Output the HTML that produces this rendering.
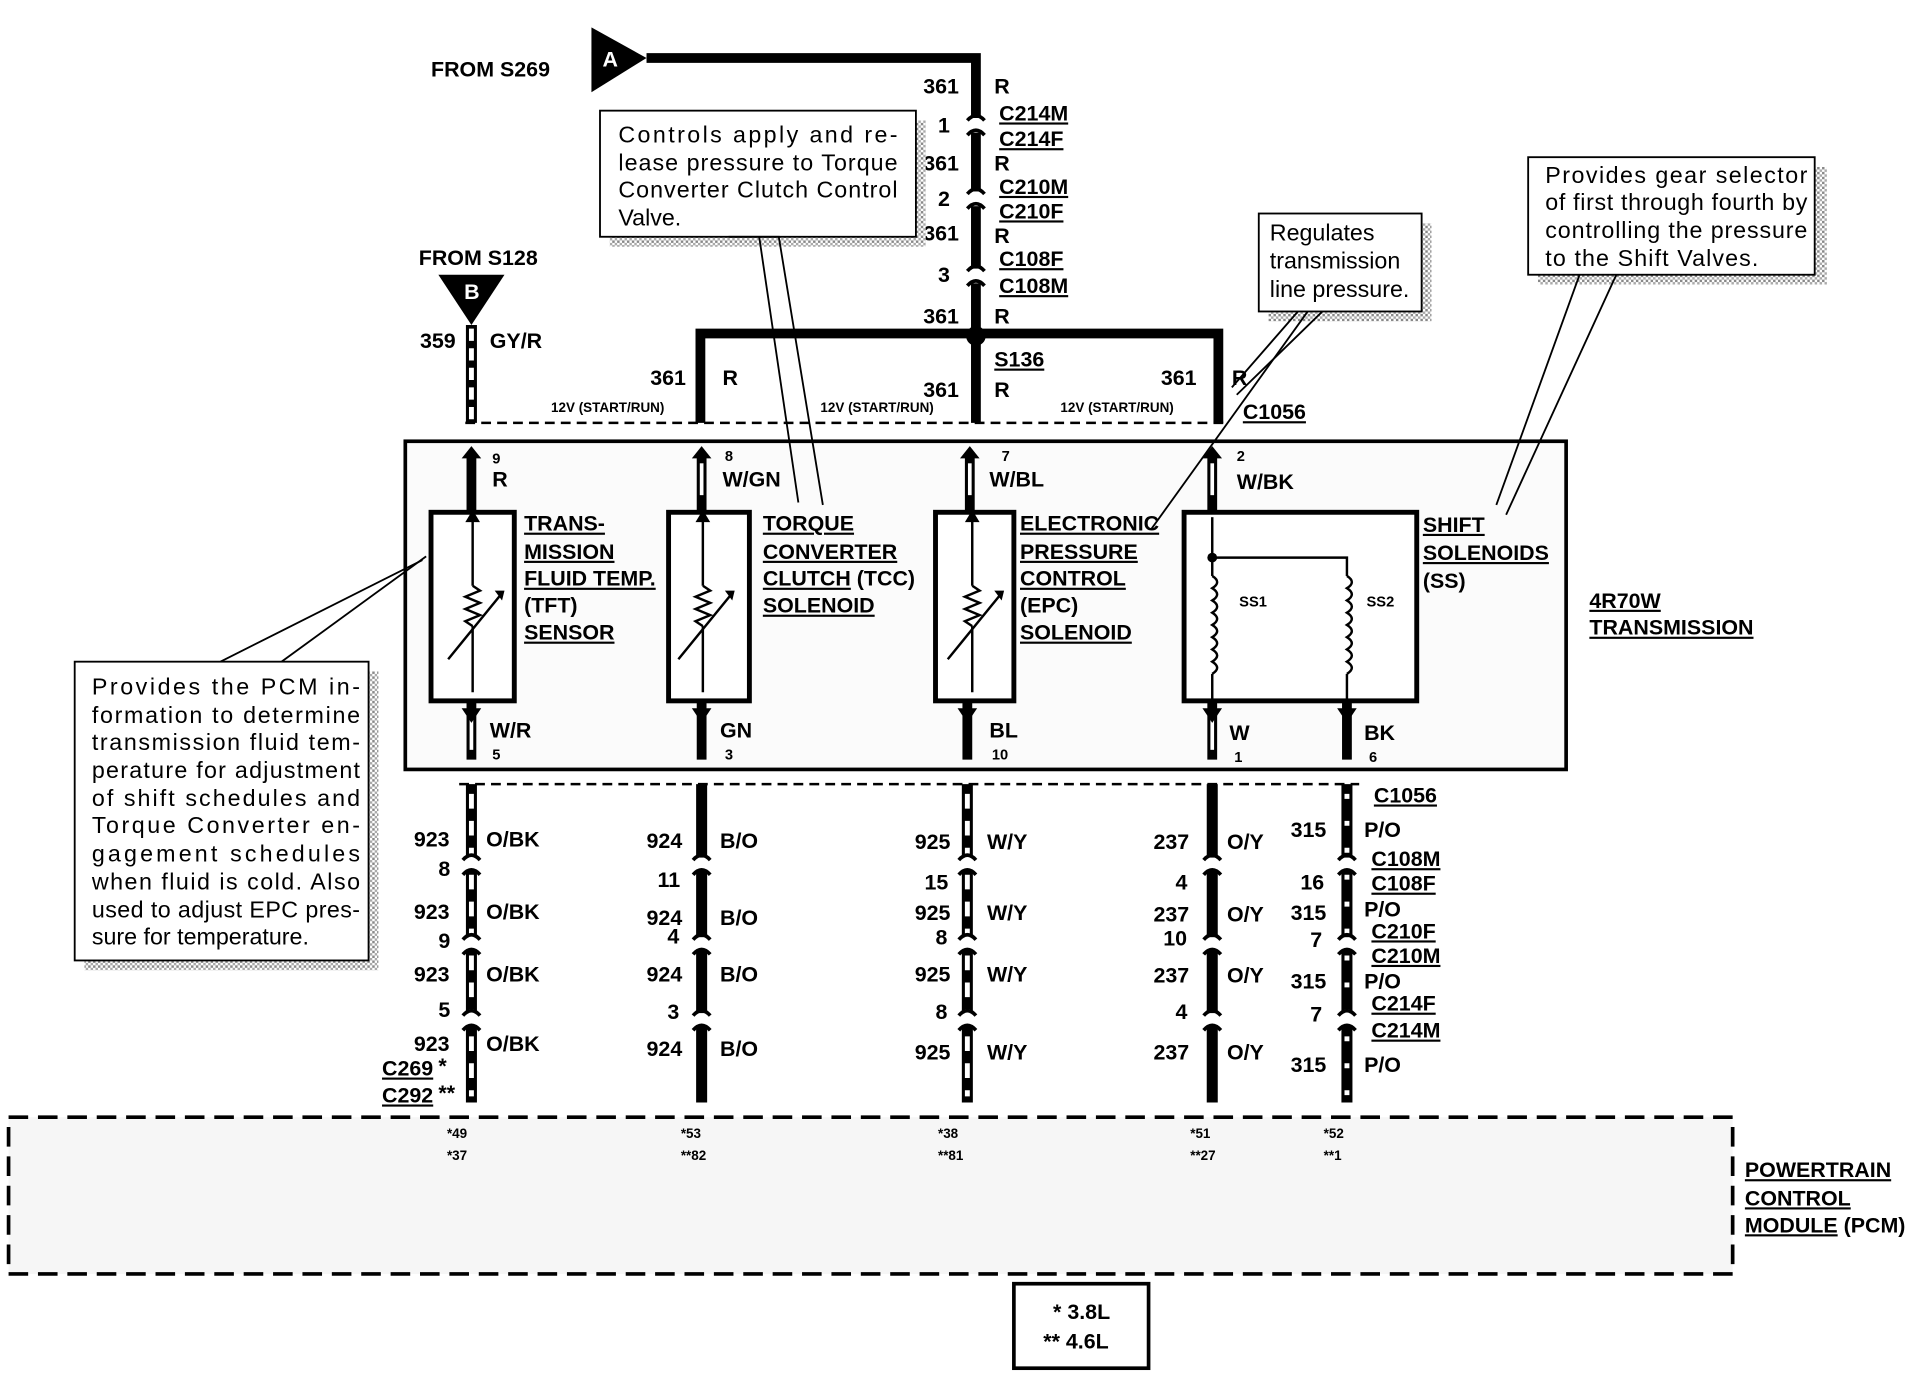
<!DOCTYPE html>
<html><head><meta charset="utf-8"><style>
html,body{margin:0;padding:0;background:#fff;}
svg{display:block;}
text{font-family:"Liberation Sans",Arial,sans-serif;fill:#000;}
.b{font-weight:bold;font-size:17.5px;}
.s{font-size:11px;font-weight:bold;}
.u{text-decoration:underline;}
.c{font-size:19px;}
</style></head><body>
<svg width="1920" height="1376" viewBox="0 0 1568 1123" xmlns="http://www.w3.org/2000/svg">
<defs>
<pattern id="st" width="4" height="4" patternUnits="userSpaceOnUse"><rect width="4" height="4" fill="#fff"/><rect width="2" height="2" fill="#888"/><rect x="2" y="2" width="2" height="2" fill="#aaa"/></pattern>
<g id="conn"><path d="M-7,-6 Q0,-14 7,-6" fill="none" stroke="#000" stroke-width="3"/><path d="M-7,6 Q0,-2 7,6" fill="none" stroke="#000" stroke-width="3"/></g>
</defs>
<text x="352" y="62" class="b">FROM S269</text>
<polygon points="483,22 528,47 483,75" fill="#000"/>
<text x="492" y="54" class="b" style="fill:#fff">A</text>
<polyline points="528,47 797,47 797,345" fill="none" stroke="#000" stroke-width="8"/>
<g fill="#fff"><rect x="788" y="96" width="18" height="12"/><rect x="788" y="156" width="18" height="12"/><rect x="788" y="219" width="18" height="12"/></g>
<use href="#conn" x="797" y="104"/><use href="#conn" x="797" y="164"/><use href="#conn" x="797" y="227"/>
<g class="b">
<text x="754" y="76">361</text><text x="812" y="76">R</text>
<text x="766" y="108">1</text><text x="816" y="98" class="b u">C214M</text><text x="816" y="119" class="b u">C214F</text>
<text x="754" y="139">361</text><text x="812" y="139">R</text>
<text x="766" y="168">2</text><text x="816" y="158" class="b u">C210M</text><text x="816" y="178" class="b u">C210F</text>
<text x="754" y="196">361</text><text x="812" y="198">R</text>
<text x="766" y="230">3</text><text x="816" y="217" class="b u">C108F</text><text x="816" y="239" class="b u">C108M</text>
<text x="754" y="264">361</text><text x="812" y="264">R</text>
<text x="812" y="299" class="b u">S136</text>
<text x="531" y="314">361</text><text x="590" y="314">R</text>
<text x="754" y="324">361</text><text x="812" y="324">R</text>
<text x="948" y="314">361</text><text x="1006" y="314">R</text>
<text x="1015" y="342" class="b u">C1056</text>
</g>
<polyline points="572,345 572,272 995,272 995,345" fill="none" stroke="#000" stroke-width="8"/>
<circle cx="797" cy="274" r="8" fill="#000"/>
<text x="450" y="336" class="s">12V (START/RUN)</text>
<text x="670" y="336" class="s">12V (START/RUN)</text>
<text x="866" y="336" class="s">12V (START/RUN)</text>
<line x1="380" y1="345" x2="1000" y2="345" stroke="#000" stroke-width="2" stroke-dasharray="8,5"/>
<text x="342" y="216" class="b">FROM S128</text>
<polygon points="358,224 412,224 385,265" fill="#000"/>
<text x="379" y="244" class="b" style="fill:#fff">B</text>
<text x="343" y="284" class="b">359</text><text x="400" y="284" class="b">GY/R</text>
<line x1="385" y1="265" x2="385" y2="345" stroke="#000" stroke-width="9"/>
<line x1="385" y1="268" x2="385" y2="343" stroke="#fff" stroke-width="4" stroke-dasharray="10,6"/>
<rect x="331" y="360" width="948" height="268" fill="#fbfbfb" stroke="#000" stroke-width="3"/>
<text x="1298" y="496" class="b u">4R70W</text><text x="1298" y="518" class="b u">TRANSMISSION</text>
<g stroke="#000" stroke-width="8">
<line x1="385" y1="372" x2="385" y2="418"/><line x1="573" y1="372" x2="573" y2="418"/><line x1="792" y1="372" x2="792" y2="418"/><line x1="990" y1="372" x2="990" y2="418"/>
<line x1="385" y1="572" x2="385" y2="620"/><line x1="573" y1="572" x2="573" y2="620"/><line x1="790" y1="572" x2="790" y2="620"/><line x1="990" y1="572" x2="990" y2="620"/><line x1="1100" y1="572" x2="1100" y2="620"/>
</g>
<g stroke="#fff" stroke-width="3">
<line x1="573" y1="378" x2="573" y2="404"/><line x1="792" y1="378" x2="792" y2="404"/><line x1="990" y1="378" x2="990" y2="404"/>
<line x1="385" y1="584" x2="385" y2="612"/><line x1="990" y1="584" x2="990" y2="612"/>
</g>
<g fill="#000">
<polygon points="377,374 393,374 385,364"/><polygon points="565,374 581,374 573,364"/><polygon points="784,374 800,374 792,364"/><polygon points="982,374 998,374 990,364"/>
<polygon points="377,578 393,578 385,590"/><polygon points="565,578 581,578 573,590"/><polygon points="782,578 798,578 790,590"/><polygon points="982,578 998,578 990,590"/><polygon points="1092,578 1108,578 1100,590"/>
</g>
<g class="b">
<text x="402" y="378" font-size="12">9</text><text x="402" y="397">R</text>
<text x="592" y="376" font-size="12">8</text><text x="590" y="397">W/GN</text>
<text x="818" y="376" font-size="12">7</text><text x="808" y="397">W/BL</text>
<text x="1010" y="376" font-size="12">2</text><text x="1010" y="399">W/BK</text>
<text x="400" y="602">W/R</text><text x="402" y="620" font-size="12">5</text>
<text x="588" y="602">GN</text><text x="592" y="620" font-size="12">3</text>
<text x="808" y="602">BL</text><text x="810" y="620" font-size="12">10</text>
<text x="1004" y="604">W</text><text x="1008" y="622" font-size="12">1</text>
<text x="1114" y="604">BK</text><text x="1118" y="622" font-size="12">6</text>
</g>
<g fill="#fff" stroke="#000" stroke-width="4">
<rect x="352" y="418" width="68" height="154"/><rect x="546" y="418" width="66" height="154"/><rect x="764" y="418" width="64" height="154"/><rect x="967" y="418" width="190" height="154"/>
</g>
<g fill="none" stroke="#000" stroke-width="2">
<line x1="386" y1="425" x2="386" y2="478"/><path d="M386,478 l6,4 -12,5 12,5 -12,5 12,5 -12,5 6,4"/><line x1="386" y1="511" x2="386" y2="565"/><line x1="366" y1="538" x2="410" y2="484"/>
<line x1="574" y1="425" x2="574" y2="478"/><path d="M574,478 l6,4 -12,5 12,5 -12,5 12,5 -12,5 6,4"/><line x1="574" y1="511" x2="574" y2="565"/><line x1="554" y1="538" x2="598" y2="484"/>
<line x1="794" y1="425" x2="794" y2="478"/><path d="M794,478 l6,4 -12,5 12,5 -12,5 12,5 -12,5 6,4"/><line x1="794" y1="511" x2="794" y2="565"/><line x1="774" y1="538" x2="818" y2="484"/>
<line x1="990" y1="422" x2="990" y2="470"/><path d="M990,470 q8,5 0,10 q8,5 0,10 q8,5 0,10 q8,5 0,10 q8,5 0,10 q8,5 0,10 q8,5 0,10 q8,5 0,10"/><line x1="990" y1="550" x2="990" y2="572"/>
<polyline points="990,455 1100,455 1100,470"/><path d="M1100,470 q8,5 0,10 q8,5 0,10 q8,5 0,10 q8,5 0,10 q8,5 0,10 q8,5 0,10 q8,5 0,10 q8,5 0,10"/><line x1="1100" y1="550" x2="1100" y2="572"/>
</g>
<polygon points="380,426 392,426 386,416" fill="#000"/><polygon points="568,426 580,426 574,416" fill="#000"/><polygon points="788,426 800,426 794,416" fill="#000"/>
<polygon points="404,482 412,482 410,490" fill="#000"/><polygon points="592,482 600,482 598,490" fill="#000"/><polygon points="812,482 820,482 818,490" fill="#000"/>
<circle cx="990" cy="455" r="4" fill="#000"/>
<text x="1012" y="495" font-size="12" font-weight="bold">SS1</text><text x="1116" y="495" font-size="12" font-weight="bold">SS2</text>
<g class="b">
<text x="428" y="433" class="u">TRANS-</text><text x="428" y="456" class="u">MISSION</text><text x="428" y="478" class="u">FLUID TEMP.</text><text x="428" y="500">(TFT)</text><text x="428" y="522" class="u">SENSOR</text>
<text x="623" y="433" class="u">TORQUE</text><text x="623" y="456" class="u">CONVERTER</text><text x="623" y="478"><tspan class="u">CLUTCH</tspan> (TCC)</text><text x="623" y="500" class="u">SOLENOID</text>
<text x="833" y="433" class="u">ELECTRONIC</text><text x="833" y="456" class="u">PRESSURE</text><text x="833" y="478" class="u">CONTROL</text><text x="833" y="500">(EPC)</text><text x="833" y="522" class="u">SOLENOID</text>
<text x="1162" y="434" class="u">SHIFT</text><text x="1162" y="457" class="u">SOLENOIDS</text><text x="1162" y="480">(SS)</text>
</g>
<line x1="375" y1="640" x2="1110" y2="640" stroke="#000" stroke-width="2" stroke-dasharray="8,5"/>
<g stroke="#000" stroke-width="9">
<line x1="385" y1="640" x2="385" y2="900"/><line x1="573" y1="640" x2="573" y2="900"/><line x1="790" y1="640" x2="790" y2="900"/><line x1="990" y1="640" x2="990" y2="900"/><line x1="1100" y1="640" x2="1100" y2="900"/>
</g>
<g stroke="#fff" stroke-width="4" stroke-dasharray="12,10">
<line x1="385" y1="648" x2="385" y2="895"/><line x1="790" y1="648" x2="790" y2="895"/><line x1="1100" y1="648" x2="1100" y2="895" stroke-dasharray="4,18"/>
</g>
<g stroke="#000" stroke-width="1.5" stroke-dasharray="5,4">
<line x1="380" y1="705" x2="1105" y2="705"/><line x1="380" y1="770" x2="1105" y2="770"/><line x1="380" y1="832" x2="1105" y2="832"/>
</g>
<g fill="#fff"><rect x="376" y="700" width="740" height="10"/><rect x="376" y="765" width="740" height="10"/><rect x="376" y="827" width="740" height="10"/></g>
<g>
<use href="#conn" x="385" y="708"/><use href="#conn" x="573" y="708"/><use href="#conn" x="790" y="708"/><use href="#conn" x="990" y="708"/><use href="#conn" x="1100" y="708"/>
<use href="#conn" x="385" y="773"/><use href="#conn" x="573" y="773"/><use href="#conn" x="790" y="773"/><use href="#conn" x="990" y="773"/><use href="#conn" x="1100" y="773"/>
<use href="#conn" x="385" y="835"/><use href="#conn" x="573" y="835"/><use href="#conn" x="790" y="835"/><use href="#conn" x="990" y="835"/><use href="#conn" x="1100" y="835"/>
</g>
<g class="b">
<text x="1122" y="655" class="u">C1056</text>
<text x="338" y="691">923</text><text x="397" y="691">O/BK</text><text x="528" y="692">924</text><text x="588" y="692">B/O</text><text x="747" y="693">925</text><text x="806" y="693">W/Y</text><text x="942" y="693">237</text><text x="1002" y="693">O/Y</text><text x="1054" y="683">315</text><text x="1114" y="683">P/O</text>
<text x="358" y="715">8</text><text x="537" y="724">11</text><text x="755" y="726">15</text><text x="960" y="726">4</text><text x="1062" y="726">16</text>
<text x="1120" y="707" class="u">C108M</text><text x="1120" y="727" class="u">C108F</text>
<text x="338" y="750">923</text><text x="397" y="750">O/BK</text><text x="528" y="755">924</text><text x="588" y="755">B/O</text><text x="747" y="751">925</text><text x="806" y="751">W/Y</text><text x="942" y="752">237</text><text x="1002" y="752">O/Y</text><text x="1054" y="751">315</text><text x="1114" y="748">P/O</text>
<text x="358" y="774">9</text><text x="545" y="770">4</text><text x="764" y="771">8</text><text x="950" y="772">10</text><text x="1070" y="773">7</text>
<text x="1120" y="766" class="u">C210F</text><text x="1120" y="786" class="u">C210M</text>
<text x="338" y="801">923</text><text x="397" y="801">O/BK</text><text x="528" y="801">924</text><text x="588" y="801">B/O</text><text x="747" y="801">925</text><text x="806" y="801">W/Y</text><text x="942" y="802">237</text><text x="1002" y="802">O/Y</text><text x="1054" y="807">315</text><text x="1114" y="807">P/O</text>
<text x="358" y="830">5</text><text x="545" y="832">3</text><text x="764" y="832">8</text><text x="960" y="832">4</text><text x="1070" y="834">7</text>
<text x="1120" y="825" class="u">C214F</text><text x="1120" y="847" class="u">C214M</text>
<text x="338" y="858">923</text><text x="397" y="858">O/BK</text><text x="528" y="862">924</text><text x="588" y="862">B/O</text><text x="747" y="865">925</text><text x="806" y="865">W/Y</text><text x="942" y="865">237</text><text x="1002" y="865">O/Y</text><text x="1054" y="875">315</text><text x="1114" y="875">P/O</text>
<text x="312" y="878" class="u">C269</text><text x="358" y="876">*</text><text x="312" y="900" class="u">C292</text><text x="358" y="898">**</text>
</g>
<rect x="7" y="912" width="1408" height="128" fill="#f6f6f6" stroke="#000" stroke-width="3" stroke-dasharray="16,8"/>
<g font-size="11" font-weight="bold">
<text x="365" y="929">*49</text><text x="365" y="947">*37</text>
<text x="556" y="929">*53</text><text x="556" y="947">**82</text>
<text x="766" y="929">*38</text><text x="766" y="947">**81</text>
<text x="972" y="929">*51</text><text x="972" y="947">**27</text>
<text x="1081" y="929">*52</text><text x="1081" y="947">**1</text>
</g>
<g class="b"><text x="1425" y="961" class="u">POWERTRAIN</text><text x="1425" y="984" class="u">CONTROL</text><text x="1425" y="1006"><tspan class="u">MODULE</tspan> (PCM)</text></g>
<rect x="828" y="1048" width="110" height="69" fill="#fff" stroke="#000" stroke-width="3"/>
<text x="860" y="1077" class="b">*  3.8L</text><text x="852" y="1101" class="b">**  4.6L</text>
<g fill="url(#st)">
<rect x="498" y="98" width="258" height="103"/><rect x="1036" y="182" width="133" height="80"/><rect x="1256" y="136" width="236" height="96"/><rect x="69" y="548" width="240" height="244"/>
</g>
<g fill="#fff" stroke="#000" stroke-width="1.5">
<rect x="490" y="90" width="258" height="103"/><rect x="1028" y="174" width="133" height="80"/><rect x="1248" y="128" width="234" height="96"/><rect x="61" y="540" width="240" height="244"/>
</g>
<g fill="none" stroke="#000" stroke-width="1.5">
<polyline points="595,193 636,193 672,412"/><line x1="620" y1="193" x2="652" y2="410"/>
<polyline points="1080,254 1010,322"/><polyline points="1060,254 1006,316"/><polyline points="1068,254 940,432"/>
<polyline points="1320,224 1230,420"/><polyline points="1290,224 1222,412"/>
<polyline points="180,540 345,457"/><polyline points="230,540 348,454"/>
</g>
<g class="c">
<text x="505" y="116" textLength="228">Controls apply and re-</text><text x="505" y="139" textLength="228">lease pressure to Torque</text><text x="505" y="161" textLength="228">Converter Clutch Control</text><text x="505" y="184">Valve.</text>
<text x="1037" y="196">Regulates</text><text x="1037" y="219">transmission</text><text x="1037" y="242">line pressure.</text>
<text x="1262" y="149" textLength="214">Provides gear selector</text><text x="1262" y="171" textLength="214">of first through fourth by</text><text x="1262" y="194" textLength="214">controlling the pressure</text><text x="1262" y="217" textLength="174">to  the Shift Valves.</text>
<text x="75" y="567" textLength="219">Provides the PCM in-</text><text x="75" y="590" textLength="219">formation to determine</text><text x="75" y="612" textLength="219">transmission fluid tem-</text><text x="75" y="635" textLength="219">perature for adjustment</text><text x="75" y="658" textLength="219">of shift schedules and</text><text x="75" y="680" textLength="219">Torque Converter en-</text><text x="75" y="703" textLength="219">gagement   schedules</text><text x="75" y="726" textLength="219">when fluid is cold.  Also</text><text x="75" y="749" textLength="219">used to adjust EPC pres-</text><text x="75" y="771">sure for temperature.</text>
</g>
</svg>
</body></html>
